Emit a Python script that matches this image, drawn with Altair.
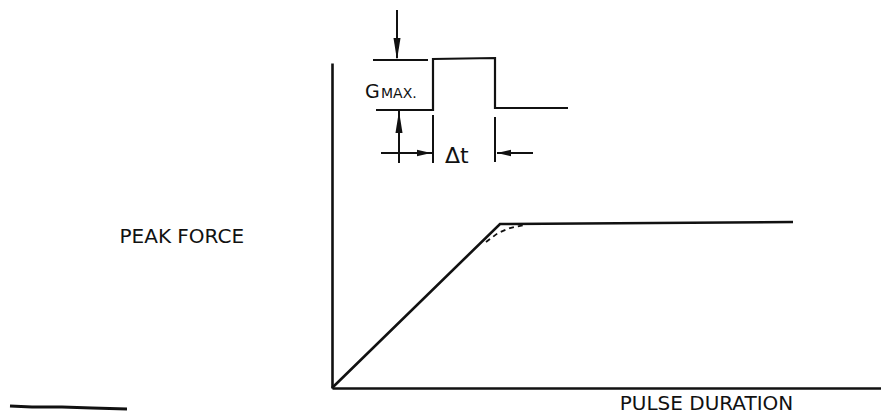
import altair as alt
import pandas as pd

# ---- data (schematic units: duration along x, force along y) ----
# main response curve: linear rise, knee, plateau
curve_duration = [0, 168, 461]
curve_force = [0, 164, 166]

# dashed rounded-knee variant
knee_duration = [154, 166, 178, 192]
knee_force = [146, 155, 160, 163]

# inset: rectangular acceleration pulse
pulse_duration = [44, 101, 101, 163, 163, 236]
pulse_force = [278, 278, 329, 330, 280, 280]

# inset dimension lines (each is one stroke)
dim_strokes = {
    "gmax_ref": ([41, 96], [328, 328]),
    "gmax_down": ([65, 65], [378, 330]),
    "gmax_up": ([67, 67], [225, 279]),
    "ext_left": ([101, 101], [273, 225]),
    "ext_right": ([163, 163], [271, 226]),
    "dt_left": ([49, 100], [235, 235]),
    "dt_right": ([201, 165], [235, 235]),
}

# scan mark at lower left
scan_duration = [-322, -300, -270, -240, -205]
scan_force = [-18, -19, -19, -20, -21]

# arrowheads: (duration, force)
head_down = ([65], [339])
head_up = ([67], [266])
head_right = ([92], [235])
head_left = ([172], [235])

# inset labels
gmax_label = (["G", "MAX."], [33, 49], [290, 290])
dt_label = (["Δt"], [113], [225])

INK = "#111111"

def stroke_frame(strokes):
    rows = []
    for name, (xs, ys) in strokes.items():
        for i, (x, y) in enumerate(zip(xs, ys)):
            rows.append({"seg": name, "i": i, "d": x, "f": y})
    return pd.DataFrame(rows)

X = alt.X("d:Q", scale=alt.Scale(domain=[0, 549], nice=False, zero=False),
          axis=alt.Axis(title="PULSE  DURATION", domain=True, ticks=False, labels=False,
                        grid=False, domainColor=INK, domainWidth=2.6,
                        titleX=374, titleY=21, titleAlign="center",
                        titleBaseline="alphabetic", titleFontSize=20,
                        titleFontWeight="normal", titleFont="DejaVu Sans",
                        titleColor=INK))
Y = alt.Y("f:Q", scale=alt.Scale(domain=[0, 325], nice=False, zero=False),
          axis=alt.Axis(title="PEAK  FORCE", domain=True, ticks=False, labels=False,
                        grid=False, domainColor=INK, domainWidth=2.6,
                        titleAngle=0, titleX=-213, titleY=179, titleAlign="left",
                        titleBaseline="alphabetic", titleFontSize=20,
                        titleFontWeight="normal", titleFont="DejaVu Sans",
                        titleColor=INK))
Xp = alt.X("d:Q")
Yp = alt.Y("f:Q")

curve_df = pd.DataFrame({"d": curve_duration, "f": curve_force, "i": range(len(curve_duration))})
knee_df = pd.DataFrame({"d": knee_duration, "f": knee_force, "i": range(len(knee_duration))})
pulse_df = pd.DataFrame({"d": pulse_duration, "f": pulse_force, "i": range(len(pulse_duration))})
scan_df = pd.DataFrame({"d": scan_duration, "f": scan_force, "i": range(len(scan_duration))})
dims_df = stroke_frame(dim_strokes)

curve = alt.Chart(curve_df).mark_line(color=INK, strokeWidth=2.6).encode(
    x=X, y=Y, order="i:Q")
knee = alt.Chart(knee_df).mark_line(color=INK, strokeWidth=1.8, strokeDash=[5, 4]).encode(
    x=Xp, y=Yp, order="i:Q")
pulse = alt.Chart(pulse_df).mark_line(color=INK, strokeWidth=2.2).encode(
    x=Xp, y=Yp, order="i:Q")
dims = alt.Chart(dims_df).mark_line(color=INK, strokeWidth=2).encode(
    x=Xp, y=Yp, detail="seg:N", order="i:Q")
scan = alt.Chart(scan_df).mark_line(color=INK, strokeWidth=3.2).encode(
    x=Xp, y=Yp, order="i:Q")

def head(pos, shape, size):
    df = pd.DataFrame({"d": pos[0], "f": pos[1]})
    return alt.Chart(df).mark_point(shape=shape, filled=True, size=size, color=INK,
                                    opacity=1, strokeWidth=0).encode(x=Xp, y=Yp)

heads = [
    head(head_down, "M-0.32,-1L0.32,-1L0,1Z", 484),
    head(head_up, "M-0.32,1L0.32,1L0,-1Z", 484),
    head(head_right, "M-1,-0.45L-1,0.45L1,0Z", 196),
    head(head_left, "M1,-0.45L1,0.45L-1,0Z", 196),
]

def label(spec, sizes):
    texts, xs, ys = spec
    layers = []
    for t, x, y, s in zip(texts, xs, ys, sizes):
        df = pd.DataFrame({"t": [t], "d": [x], "f": [y]})
        layers.append(alt.Chart(df).mark_text(align="left", baseline="alphabetic",
                                              font="DejaVu Sans", fontSize=s, color=INK)
                      .encode(x=Xp, y=Yp, text="t:N"))
    return layers

texts = label(gmax_label, [19, 14]) + label(dt_label, [22])

chart = alt.layer(curve, knee, pulse, dims, scan, *heads, *texts).properties(
    width=549, height=325,
    autosize=alt.AutoSizeParams(type="none"),
    padding={"left": 324, "top": 55, "right": 0, "bottom": 28},
    background="white",
).configure_view(stroke=None)

chart.save("out.html", embed_options={"renderer": "svg", "actions": False})
